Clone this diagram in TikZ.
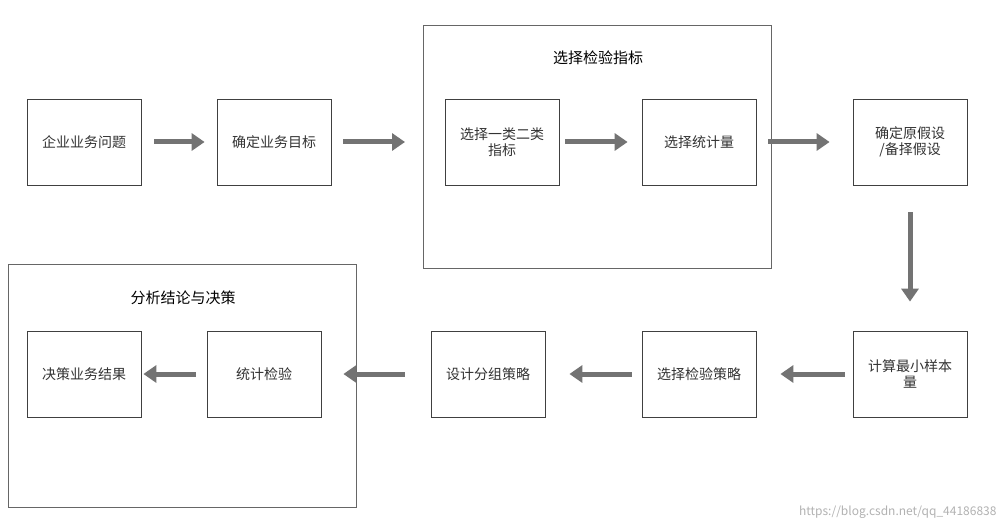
\documentclass[tikz,border=0pt]{standalone}
\usepackage{fontspec}
\setmainfont{Noto Sans CJK SC}
\usetikzlibrary{arrows.meta}
\begin{document}
\begin{tikzpicture}[x=1pt,y=-1pt,
  box/.style={draw=black!75,line width=0.8pt,minimum width=114pt,minimum height=86pt,inner sep=2pt,align=center,text width=108pt,font=\fontsize{14}{16}\selectfont,text=black!80},
  big/.style={draw=black!60,line width=0.8pt},
  ttl/.style={font=\fontsize{15}{18}\selectfont,text=black},
  arr/.style={-{Triangle[length=13pt,width=17pt]},line width=5pt,draw=black!55}]
\useasboundingbox (0,0) rectangle (1008,529);
\fill[white] (0,0) rectangle (1008,529);
\draw[big] (423,25) rectangle (771,268);
\node[ttl] (t1) at (598,58) {选择检验指标};
\draw[big] (8,264) rectangle (356,507);
\node[ttl] (t2) at (183,298) {分析结论与决策};
\node[box] (a) at (84,142) {企业业务问题};
\node[box] (b) at (274,142) {确定业务目标};
\node[box] (c) at (502,142) {选择一类二类\\指标};
\node[box] (d) at (699,142) {选择统计量};
\node[box] (e) at (910,142) {确定原假设\\/备择假设};
\node[box] (f) at (910,374) {计算最小样本\\量};
\node[box] (g) at (699,374) {选择检验策略};
\node[box] (h) at (488,374) {设计分组策略};
\node[box] (i) at (264,374) {统计检验};
\node[box] (j) at (84,374) {决策业务结果};
\coordinate (bw) at (423,142);
\coordinate (be) at (356,374);
\draw[arr,shorten <=13pt,shorten >=12pt] (a.east) -- (b.west);
\draw[arr,shorten <=12pt,shorten >=18pt] (b.east) -- (bw);
\draw[arr,shorten <=6pt,shorten >=14pt] (c.east) -- (d.west);
\draw[arr,shorten <=12pt,shorten >=23pt] (d.east) -- (e.west);
\draw[arr,shorten <=27pt,shorten >=29pt] (e.south) -- (f.north);
\draw[arr,shorten <=8pt,shorten >=24pt] (f.west) -- (g.east);
\draw[arr,shorten <=10pt,shorten >=24pt] (g.west) -- (h.east);
\draw[arr,shorten <=26pt,shorten >=22pt] (h.west) -- (i.east);
\draw[arr,shorten <=11pt,shorten >=2pt] (i.west) -- (j.east);
\node[font=\fontsize{12}{14}\selectfont,text=black!30,anchor=east] (w) at (1000,512) {https://blog.csdn.net/qq\_44186838};
\end{tikzpicture}
\end{document}
